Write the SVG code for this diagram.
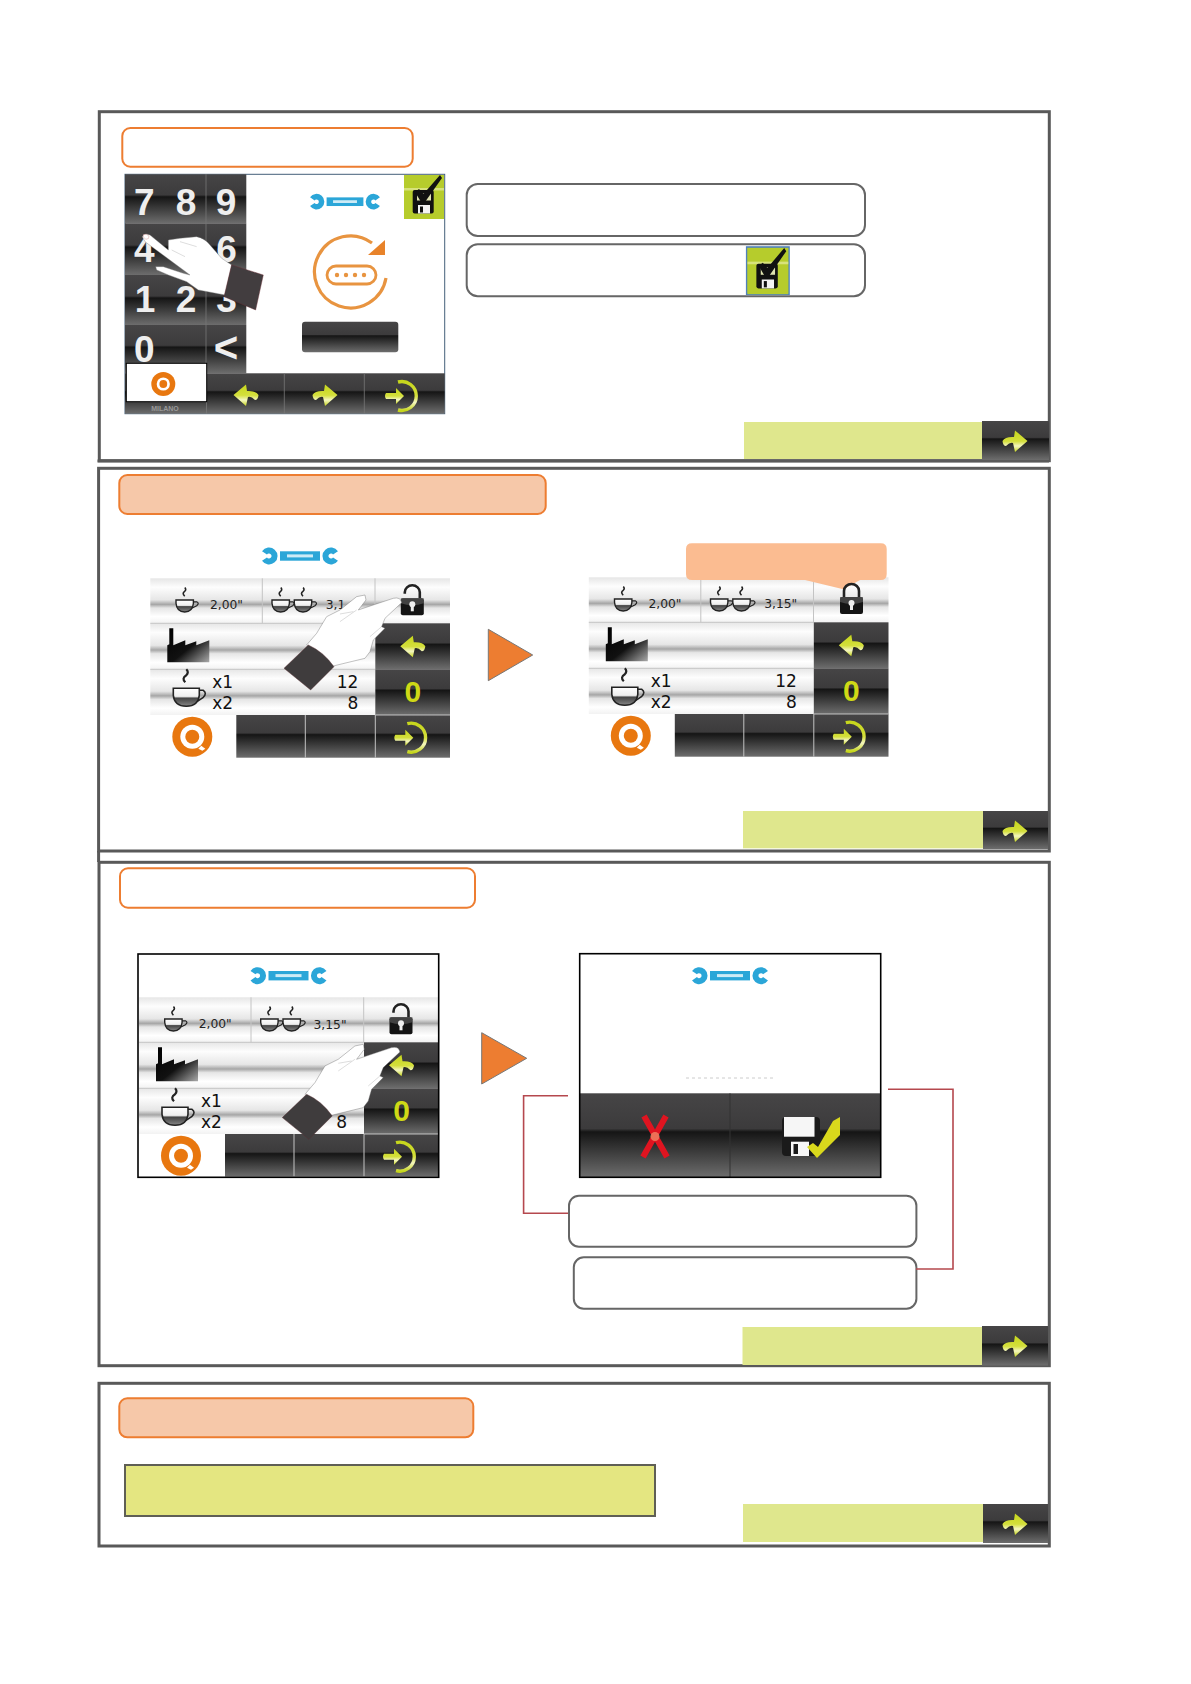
<svg xmlns="http://www.w3.org/2000/svg" xmlns:xlink="http://www.w3.org/1999/xlink" width="1191" height="1684" viewBox="0 0 1191 1684">
<style>
.frame{fill:none;stroke:#595959;stroke-width:3}
.orange{fill:#fff;stroke:#ed7d31;stroke-width:2}
.salmon{fill:#f6c8a9;stroke:#ed7d31;stroke-width:2}
.note{fill:#fff;stroke:#666;stroke-width:2}
.next{fill:#dfe78d}
.dark{fill:url(#dark)}
.silver{fill:url(#silver)}
.sep{stroke:#c4c4c4;stroke-width:1;fill:none}
.sepd{stroke:#777;stroke-width:.8;fill:none}
.link{fill:none;stroke:#b5484e;stroke-width:1.6}
.tri{fill:#ed7d31;stroke:#777;stroke-width:1}
.t{font-family:"DejaVu Sans",Verdana,sans-serif;fill:#111}
.s{font-size:12.3px;fill:#222}
.m{font-size:17px}
.key{font-family:"Liberation Sans",Arial,sans-serif;font-weight:700;font-size:37px;fill:#eee;text-anchor:middle}
.zero{font-family:"Liberation Sans",Arial,sans-serif;font-weight:700;font-size:30px;fill:#cfd916;text-anchor:middle}
.ylw{fill:url(#ylw)}
</style>
<defs>
<linearGradient id="dark" x1="0" y1="0" x2="0" y2="1">
<stop offset="0" stop-color="#464546"/><stop offset=".42" stop-color="#3c3b3c"/><stop offset=".46" stop-color="#151515"/><stop offset=".6" stop-color="#2c2c2c"/><stop offset="1" stop-color="#6d6d6d"/>
</linearGradient>
<linearGradient id="silver" x1="0" y1="0" x2="0" y2="1">
<stop offset="0" stop-color="#e6e6e6"/><stop offset=".2" stop-color="#fdfdfd"/><stop offset=".48" stop-color="#e6e6e6"/><stop offset=".58" stop-color="#a6a6a6"/><stop offset=".66" stop-color="#e6e6e6"/><stop offset=".85" stop-color="#fff"/><stop offset="1" stop-color="#f2f2f2"/>
</linearGradient>
<linearGradient id="ylw" x1="0" y1="0" x2="0" y2="1">
<stop offset="0" stop-color="#c6d61c"/><stop offset=".5" stop-color="#d4df3c"/><stop offset=".72" stop-color="#f4f6c0"/><stop offset="1" stop-color="#c6d61c"/>
</linearGradient>
<linearGradient id="fact" x1="0" y1="0" x2="1" y2="1">
<stop offset="0" stop-color="#000"/><stop offset=".55" stop-color="#111"/><stop offset="1" stop-color="#aaa"/>
</linearGradient>
<linearGradient id="cupf" x1="0" y1="0" x2="0" y2="1">
<stop offset="0" stop-color="#fff"/><stop offset=".45" stop-color="#eee"/><stop offset=".55" stop-color="#444"/><stop offset="1" stop-color="#888"/>
</linearGradient>
<g id="wrench">
<path d="M-35.5,-3.1 A5.5,5.5 0 1 1 -35.5,3.1" fill="none" stroke="#2ba6d8" stroke-width="6"/>
<path d="M35.5,-3.1 A5.5,5.5 0 1 0 35.5,3.1" fill="none" stroke="#2ba6d8" stroke-width="6"/>
<rect x="-20" y="-4.7" width="40" height="9.4" fill="#2ba6d8"/>
<rect x="-13" y="-1.6" width="26" height="3" fill="#cdebf6"/>
</g>
<g id="cup">
<path d="M0,-7 Q-3,-10 0,-12 Q2,-14 0,-15.6" fill="none" stroke="#222" stroke-width="1.6"/>
<path d="M-8.7,-3.3 H8.7 V0 Q8,8.7 0,8.7 Q-8,8.7 -8.7,0 Z" fill="url(#cupf)" stroke="#222" stroke-width="1.4"/>
<path d="M8.7,-1.5 H12 Q15,0 12,2.5 L7,5" fill="none" stroke="#222" stroke-width="1.2"/>
</g>
<g id="bigcup">
<path d="M-1,-14 Q-5,-18 0,-21 Q3,-24 0,-27" fill="none" stroke="#222" stroke-width="2.2"/>
<path d="M-13,-8 H13 V-1 Q12,10 0,10 Q-12,10 -13,-1 Z" fill="url(#cupf)" stroke="#222" stroke-width="1.6"/>
<path d="M13,-6 H17 Q21,-3 17,1 L11,5" fill="none" stroke="#222" stroke-width="1.6"/>
</g>
<g id="lockbody">
<rect x="-11.5" y="-2" width="23" height="17" rx="2" fill="#141414"/>
<path d="M-11.5,-2 H11.5 V3 Q0,7 -11.5,3 Z" fill="#555" opacity=".7"/>
<circle cx="0" cy="4" r="3" fill="#eee"/><rect x="-1.5" y="5" width="3" height="6" fill="#eee"/>
</g>
<g id="lockopen">
<path d="M-7.5,-6.5 V-8 A7.5,7 0 0 1 7.5,-8 V-2" fill="none" stroke="#222" stroke-width="2.6"/>
<use xlink:href="#lockbody" href="#lockbody"/>
</g>
<g id="lockshut">
<path d="M-7.5,-2 V-8 A7.5,7 0 0 1 7.5,-8 V-2" fill="none" stroke="#222" stroke-width="2.6"/>
<use xlink:href="#lockbody" href="#lockbody"/>
</g>
<path id="factory" fill="url(#fact)" d="M0,34 V17 L2,16 V0 H6 V17 L18,12 V17 L29,13 V17 L42,12 V34 Z"/>
<path id="arrowL" class="ylw" d="M-12.5,0 L0,-10.5 L1,-4 Q10,-4.5 12.5,0 Q12,5 9,5 Q5,1 2,2 L0,11 Z"/>
<g id="exit">
<path d="M-5,-13 A14.5,14.5 0 1 1 -5,15" fill="none" stroke="url(#ylw)" stroke-width="3.4"/>
<path class="ylw" d="M-17,-2 L-7,-2 L-7,-7 L1,1 L-7,9 L-7,4 L-17,4 Q-19,1 -17,-2 Z"/>
</g>
<g id="q">
<circle r="20" fill="#e8770f"/><circle r="12" fill="#fff"/><circle r="7" fill="#e8770f"/>
<path d="M9,9 L13,12 L10,14 L6,12 Z" fill="#fff"/>
</g>
<g id="save">
<rect width="40" height="44" fill="#b6cc2c"/>
<rect y="13" width="40" height="2.5" fill="#d7e27c"/>
<rect x="8.7" y="15" width="21" height="23.5" rx="2" fill="#111"/>
<rect x="13" y="18.5" width="14" height="7" fill="#dfe3b0"/>
<rect x="14" y="30" width="12" height="8.5" fill="#f4f4f4"/><rect x="16" y="31.5" width="3" height="6" fill="#111"/>
<path d="M11,17 L15,14 L19.5,19 L36,0 L38,3 L21,27 L17,27 Z" fill="#111"/>
</g>
<g id="handA">
<path fill="#fff" stroke="#777" stroke-width="1.2" d="M157,410 Q162,398 180,405 L235,450 L235,420 L270,415 L320,410 Q345,415 360,435 L395,475 L425,495 L405,585 L325,570 L290,545 L235,525 L200,510 L197,500 L220,500 L280,520 L300,525 L165,425 Z"/>
<path fill="#fff" stroke="#c88" stroke-width="1.2" d="M160,404 Q170,400 177,408 Q178,418 168,418 Q158,414 160,404 Z"/>
<path fill="none" stroke="#999" stroke-width="1" d="M245,450 L285,470 M270,425 L320,440"/>
<path fill="#423d3f" stroke="#6d2a33" stroke-width="1.2" d="M425,495 L520,525 L497,630 L402,590 Z"/>
</g>
<g id="handB">
<path fill="#fff" stroke="#666" stroke-width="1.2" d="M650,525 L680,490 L710,440 L750,420 L800,380 L825,375 L828,390 L805,420 L910,385 Q932,380 935,398 L885,445 L875,470 L885,475 L850,510 L840,545 L825,565 L730,588 Z"/>
<path fill="none" stroke="#999" stroke-width="1" d="M750,455 L800,420 M875,470 L840,500 M790,425 L750,432"/>
<path fill="#3f3c3d" stroke="#5c2a30" stroke-width="1.2" d="M655,525 Q700,545 732,590 L662,660 L582,595 Z"/>
</g>
<g id="panel">
<rect class="silver" width="299.7" height="45"/>
<rect class="silver" y="45" width="225" height="46"/>
<rect class="silver" y="91" width="225" height="45.7"/>
<path class="sep" d="M112,0 V45 M224.7,0 V45 M0,45 H225 M0,91 H225"/>
<rect class="dark" x="225" y="45" width="74.7" height="46"/>
<rect class="dark" x="225" y="91" width="74.7" height="45.7"/>
<rect class="dark" x="86" y="136.7" width="213.7" height="42.7"/>
<path class="sep" d="M155,136.7 V179.4 M225,136.7 V179.4 M225,136.7 H299.7"/>
<use xlink:href="#cup" href="#cup" x="34.4" y="25"/>
<use xlink:href="#cup" href="#cup" x="130.4" y="25"/>
<use xlink:href="#cup" href="#cup" x="152.7" y="25"/>
<use xlink:href="#factory" href="#factory" x="17" y="50"/>
<use xlink:href="#bigcup" href="#bigcup" x="36" y="118"/>
<use xlink:href="#arrowL" href="#arrowL" x="262.5" y="68"/>
<text class="zero" x="262.5" y="124">0</text>
<use xlink:href="#exit" href="#exit" x="262" y="158.4"/>
<use xlink:href="#q" href="#q" x="42" y="158.4"/>
<text class="t s" x="59.7" y="31">2,00"</text>
<text class="t m" x="62" y="110">x1</text>
<text class="t m" x="62" y="130.7">x2</text>
<text class="t m" x="208" y="130.7" text-anchor="end">8</text>
</g>
</defs>

<g id="frames">
<rect class="frame" x="99.3" y="111.7" width="950" height="349"/>
<path class="frame" d="M97.5,461 H1049"/>
<rect class="frame" x="98.6" y="468.3" width="950.7" height="382.7"/>
<path class="frame" d="M98.6,851 V862"/>
<rect class="frame" x="99" y="862.3" width="950.3" height="503.4"/>
<rect class="frame" x="99" y="1383.3" width="950.3" height="162.7"/>
</g>

<g id="section-1">
<rect class="orange" x="122.3" y="128" width="290.4" height="38.7" rx="8"/>
<g id="screen-keypad">
<rect x="125" y="174.3" width="319.7" height="239.4" fill="#fff" stroke="#44607a" stroke-width="1"/>
<rect class="dark" x="125" y="174.3" width="121.3" height="49"/>
<rect class="dark" x="125" y="223.3" width="121.3" height="51.7"/>
<rect class="dark" x="125" y="275" width="121.3" height="50"/>
<rect class="dark" x="125" y="325" width="121.3" height="48.3"/>
<rect class="dark" x="125" y="373.3" width="319.7" height="40.4"/>
<path class="sepd" d="M206,174 V373 M206.5,373 V414 M284.3,373.3 V413.7 M364.3,373.3 V413.7"/>
<text class="key" x="144.3" y="215">7</text><text class="key" x="186" y="215">8</text><text class="key" x="226" y="215">9</text>
<text class="key" x="144.3" y="261.7">4</text><text class="key" x="226.6" y="261.7">6</text>
<text class="key" x="145" y="312">1</text><text class="key" x="186" y="312">2</text><text class="key" x="226.6" y="312">3</text>
<text class="key" x="144.3" y="361.7">0</text><text class="key" x="226" y="362" style="font-size:42px">&lt;</text>
<rect x="126.3" y="363.3" width="80.4" height="38.4" fill="#fff" stroke="#000" stroke-width="1"/>
<g transform="translate(163.3 384) scale(.6)"><circle r="20" fill="#e8770f"/><circle r="11" fill="#fff"/><circle r="6.5" fill="#e8770f"/></g>
<text x="165" y="410.5" text-anchor="middle" style="font-family:'Liberation Sans',Arial,sans-serif;font-size:7px;font-weight:700;fill:#999">MILANO</text>
<g transform="translate(345 201.7) scale(.92)"><use xlink:href="#wrench" href="#wrench"/></g>
<use xlink:href="#save" href="#save" x="404" y="175"/>
<g fill="none" stroke="#e89440" stroke-width="3.2">
<path d="M386,278 A36,36 0 1 1 372,243"/>
<rect x="327" y="266" width="49" height="18" rx="9" stroke-width="2.8"/>
</g>
<path d="M368,255 L385,240 L385,255 Z" fill="#e8832a"/>
<g fill="#e89440"><circle cx="337" cy="275" r="2.2"/><circle cx="346" cy="275" r="2.2"/><circle cx="355" cy="275" r="2.2"/><circle cx="364" cy="275" r="2.2"/></g>
<rect class="dark" x="302" y="321.7" width="96.3" height="30.6" rx="3"/>
<use xlink:href="#arrowL" href="#arrowL" x="246" y="395"/>
<g transform="translate(325 395) scale(-1 1)"><use xlink:href="#arrowL" href="#arrowL"/></g>
<use xlink:href="#exit" href="#exit" x="403" y="395"/>
<g transform="translate(90 100) scale(.3333)"><use xlink:href="#handA" href="#handA"/></g>
</g>
<rect id="note-1" class="note" x="466.7" y="184" width="398.3" height="52" rx="11"/>
<g id="note-2">
<rect class="note" x="466.7" y="244.3" width="398.3" height="52" rx="11"/>
<rect x="746.7" y="247" width="42.3" height="47.3" fill="#b6cc2c" stroke="#4f81bd" stroke-width="1.6"/>
<g transform="translate(747.5 248) scale(1.02 1.05)"><use xlink:href="#save" href="#save"/></g>
</g>
<g id="next-1">
<rect class="next" x="744" y="422" width="238" height="37"/>
<rect class="dark" x="982" y="421" width="67" height="39"/>
<g transform="translate(1015 441) scale(-1 1)"><use xlink:href="#arrowL" href="#arrowL"/></g>
</g>
</g>

<g id="section-2">
<rect class="salmon" x="119.3" y="475" width="426.4" height="39" rx="8"/>
<use xlink:href="#wrench" href="#wrench" x="300" y="556"/>
<g id="screen-left"><g transform="translate(150.3 578.3)">
<use xlink:href="#panel" href="#panel"/>
<use xlink:href="#lockopen" href="#lockopen" x="262" y="22"/>
<text class="t s" x="175.4" y="31">3,1</text>
<text class="t m" x="208" y="110" text-anchor="end">12</text>
</g>
<g transform="translate(90 470) scale(.3333)"><use xlink:href="#handB" href="#handB"/></g></g>
<path id="tri-1" class="tri" d="M488.3,629.3 L532.7,655 L488.3,680.7 Z"/>
<g id="screen-right"><g transform="translate(588.8 577.3)">
<use xlink:href="#panel" href="#panel"/>
<text class="t s" x="175.4" y="31">3,15"</text>
<text class="t m" x="208" y="110" text-anchor="end">12</text>
</g>
<path d="M686,549 Q686,543.3 692,543.3 H880.7 Q886.7,543.3 886.7,549 V574 Q886.7,580 880.7,580 H860 L843.3,589.3 L805,580 H692 Q686,580 686,574 Z" fill="#fbbc91"/>
<use xlink:href="#lockshut" href="#lockshut" x="851.5" y="599"/></g>
<g id="next-2">
<rect class="next" x="743" y="811" width="240" height="37.3"/>
<rect class="dark" x="983" y="811" width="65" height="38"/>
<g transform="translate(1015 831) scale(-1 1)"><use xlink:href="#arrowL" href="#arrowL"/></g>
</g>
</g>

<g id="section-3">
<rect class="orange" x="120" y="868.3" width="355" height="39.4" rx="8"/>
<g id="screen-unlock">
<rect x="138" y="954" width="300.7" height="223.3" fill="#fff"/>
<use xlink:href="#wrench" href="#wrench" x="288.5" y="975.7"/>
<g transform="translate(139 997.3)"><use xlink:href="#panel" href="#panel"/>
<use xlink:href="#lockopen" href="#lockopen" x="262" y="22"/>
<text class="t s" x="174.5" y="32">3,15"</text></g>
<rect x="138" y="954" width="300.7" height="223.3" fill="none" stroke="#000" stroke-width="1.6"/>
<g transform="translate(88.3 919.3) scale(.3333)"><use xlink:href="#handB" href="#handB"/></g>
</g>
<path id="tri-2" class="tri" d="M481.7,1032.7 L526.7,1058.3 L481.7,1084 Z"/>
<g id="screen-confirm">
<rect x="579.7" y="953.7" width="301" height="223.6" fill="#fff"/>
<use xlink:href="#wrench" href="#wrench" x="730" y="975.7"/>
<path d="M686,1078 H776" stroke="#ccc" stroke-width="1" stroke-dasharray="3 3" fill="none"/>
<rect class="dark" x="580" y="1093.3" width="150" height="84"/>
<rect class="dark" x="730" y="1093.3" width="150.7" height="84"/>
<path d="M730,1093.3 V1177" stroke="#333" stroke-width="1" fill="none"/>
<path d="M644,1116 L667,1157 M666,1116 L643,1157" stroke="#df1420" stroke-width="6" fill="none"/>
<circle cx="655" cy="1136.5" r="4.5" fill="#f08060" opacity=".85"/>
<rect x="782" y="1117" width="38" height="39" rx="4" fill="#1a1a1a"/>
<rect x="784" y="1117" width="30.5" height="19.7" fill="#f6f6f6"/>
<rect x="791" y="1141.7" width="18" height="14.3" fill="#f6f6f6"/><rect x="793.5" y="1144" width="4.5" height="10" fill="#1a1a1a"/>
<path d="M807,1147 L813,1143 L818,1147 L833,1121 L840,1117 L840,1135 L817,1158 Z" fill="#d9d81c"/>
<rect x="579.7" y="953.7" width="301" height="223.6" fill="none" stroke="#000" stroke-width="1.6"/>
</g>
<rect id="note-3" class="note" x="569" y="1195.7" width="347.4" height="51" rx="10"/>
<rect id="note-4" class="note" x="573.8" y="1257.3" width="342.6" height="51.4" rx="10"/>
<g id="next-3">
<rect class="next" x="742.5" y="1327" width="239.5" height="38"/>
<rect class="dark" x="982" y="1326" width="66" height="39.5"/>
<g transform="translate(1015 1346) scale(-1 1)"><use xlink:href="#arrowL" href="#arrowL"/></g>
</g>
</g>

<g id="connectors">
<path class="link" d="M568,1095.7 H523.6 V1213.3 H568"/>
<path class="link" d="M888,1089.3 H953 V1269 H916"/>
</g>

<g id="section-4">
<rect class="salmon" x="119.3" y="1398.3" width="354" height="39" rx="8"/>
<rect id="banner" x="125" y="1465" width="530" height="51" fill="#e4e681" stroke="#5f5f55" stroke-width="2"/>
<g id="next-4">
<rect class="next" x="743" y="1504" width="240" height="38"/>
<rect class="dark" x="983" y="1504" width="65" height="39"/>
<g transform="translate(1015 1524) scale(-1 1)"><use xlink:href="#arrowL" href="#arrowL"/></g>
</g>
</g>
</svg>
